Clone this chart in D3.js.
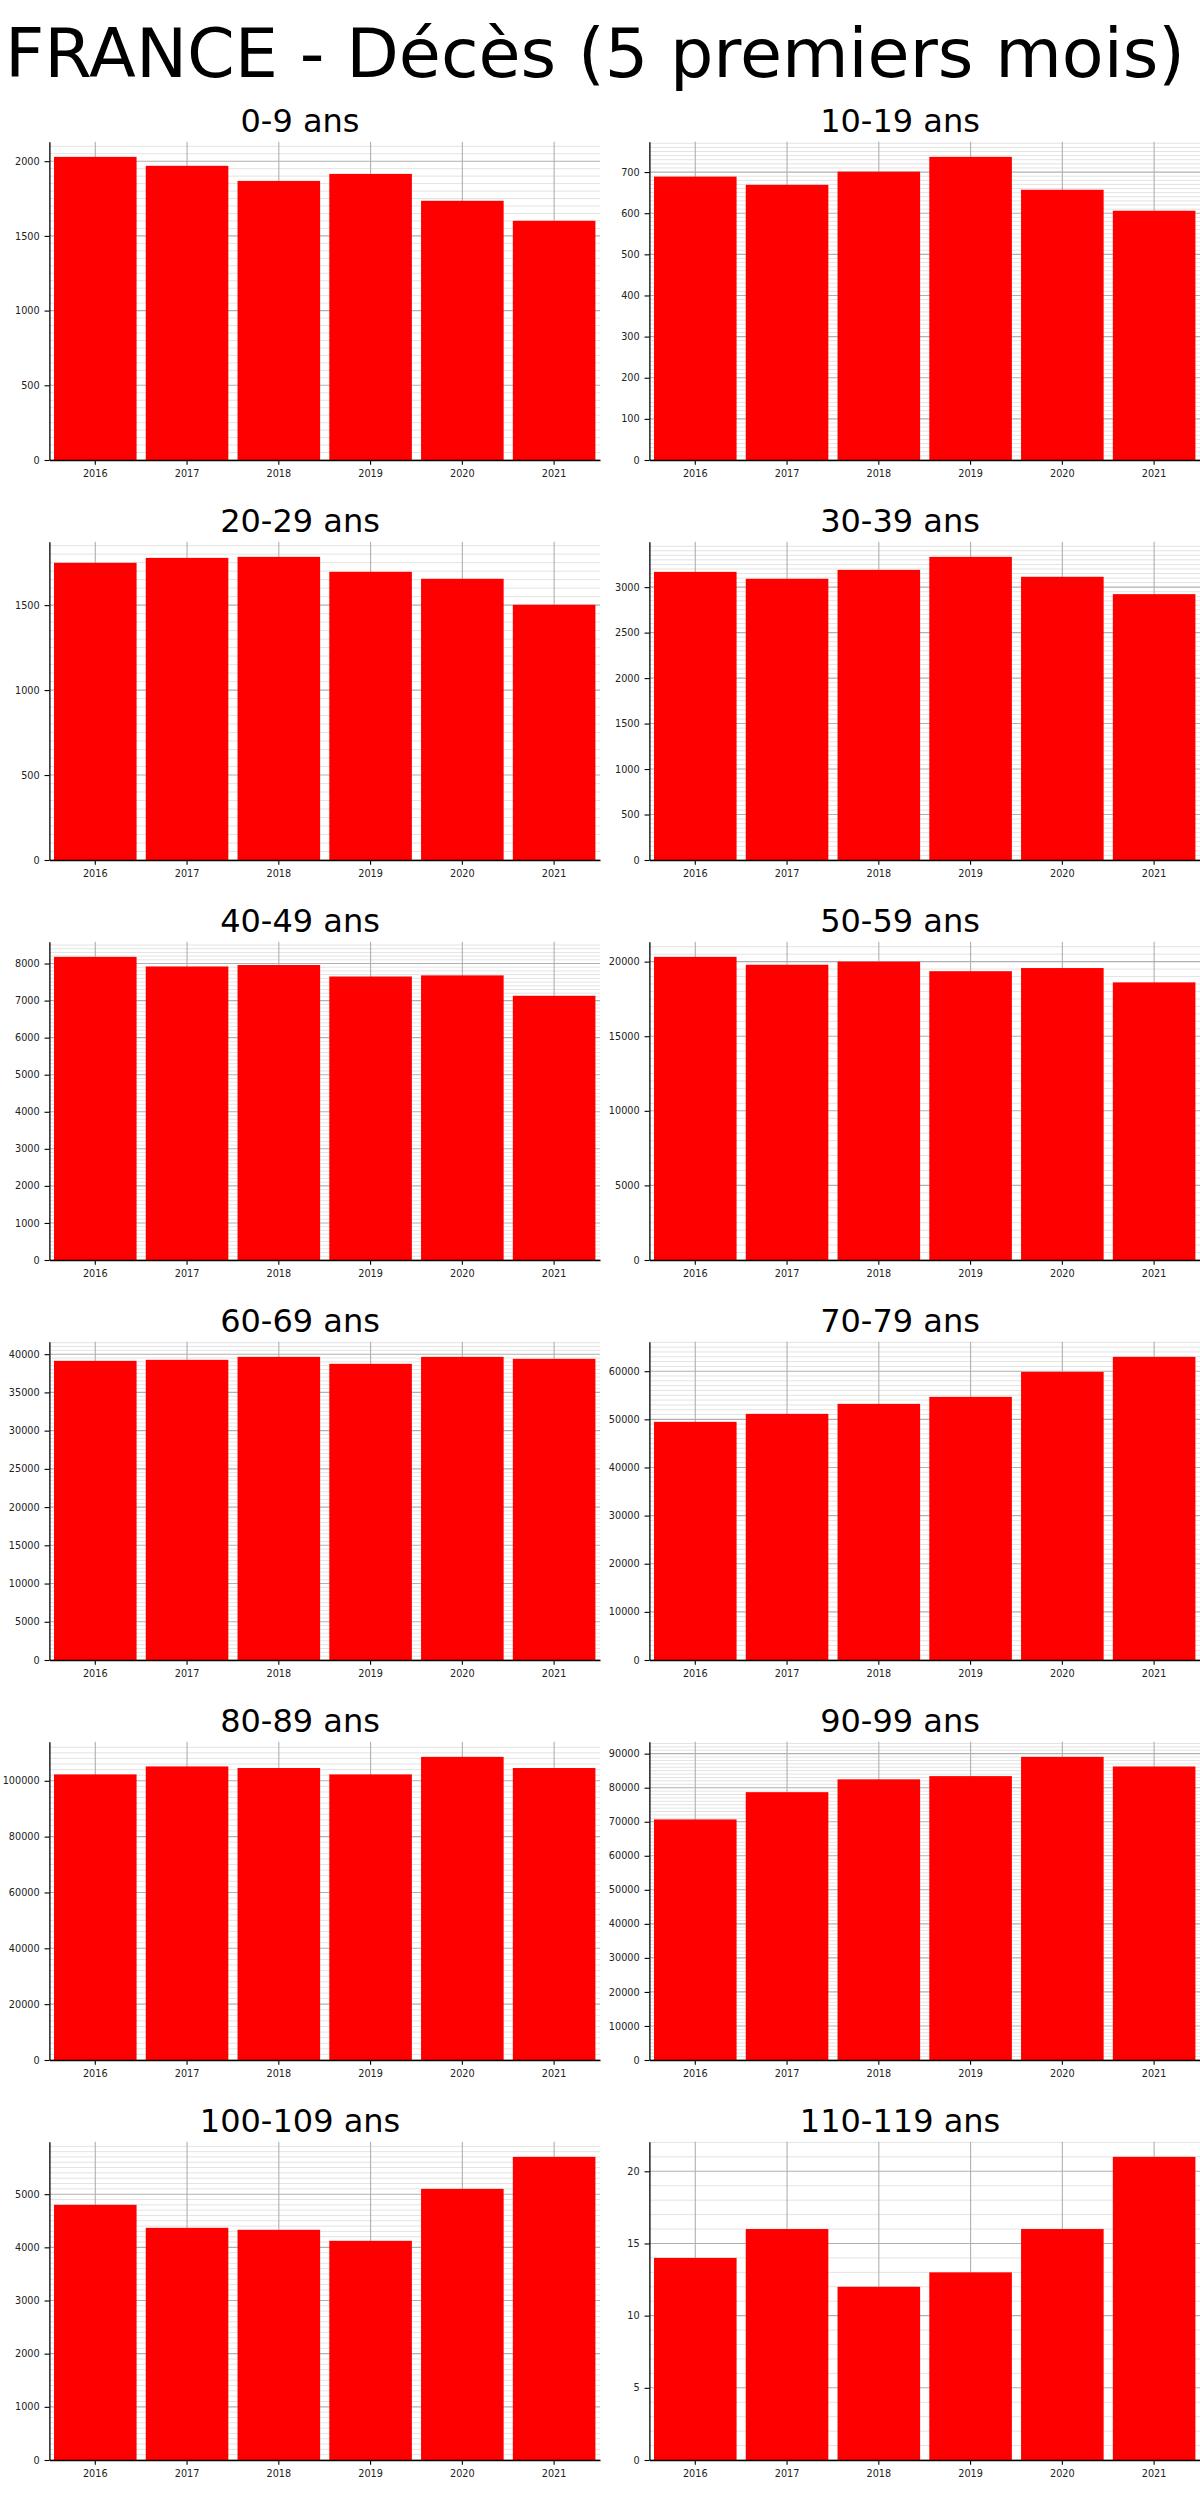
<!DOCTYPE html>
<html>
<head>
<meta charset="utf-8">
<script src="https://cdn.jsdelivr.net/npm/d3@7"></script>
<style>
  html, body { margin: 0; padding: 0; background: #ffffff; }
  svg { display: block; font-family: "DejaVu Sans", sans-serif; }
</style>
</head>
<body>
<svg id="chart" width="1200" height="2500"></svg>
<script>
// ---------------- DATA ----------------
const chartTitle = "FRANCE - Décès (5 premiers mois)";
const years = ["2016", "2017", "2018", "2019", "2020", "2021"];
const ageGroups = ["0-9 ans", "10-19 ans", "20-29 ans", "30-39 ans", "40-49 ans", "50-59 ans",
                   "60-69 ans", "70-79 ans", "80-89 ans", "90-99 ans", "100-109 ans", "110-119 ans"];

const deaths_0_9     = [2029, 1969, 1868, 1915, 1735, 1601];
const deaths_10_19   = [689, 669, 701, 737, 657, 606];
const deaths_20_29   = [1749, 1778, 1784, 1696, 1655, 1502];
const deaths_30_39   = [3168, 3092, 3190, 3333, 3114, 2923];
const deaths_40_49   = [8180, 7920, 7960, 7650, 7680, 7130];
const deaths_50_59   = [20320, 19790, 20000, 19360, 19570, 18610];
const deaths_60_69   = [39130, 39260, 39650, 38740, 39650, 39390];
const deaths_70_79   = [49480, 51140, 53220, 54670, 59860, 62980];
const deaths_80_89   = [102290, 105140, 104570, 102290, 108570, 104570];
const deaths_90_99   = [70680, 78690, 82460, 83400, 89060, 86230];
const deaths_100_109 = [4800, 4367, 4330, 4123, 5100, 5702];
const deaths_110_119 = [14, 16, 12, 13, 16, 21];

// y-axis major tick step and minor subdivisions per panel
const yMajorStep = [500, 100, 500, 500, 1000, 5000, 5000, 10000, 20000, 10000, 1000, 5];
const yMinorDivs = [10, 10, 10, 10, 10, 10, 10, 10, 10, 10, 10, 5];

const series = [deaths_0_9, deaths_10_19, deaths_20_29, deaths_30_39, deaths_40_49, deaths_50_59,
                deaths_60_69, deaths_70_79, deaths_80_89, deaths_90_99, deaths_100_109, deaths_110_119];

// ---------------- LAYOUT ----------------
const svg = d3.select("#chart");
const colW = 600, rowH = 400;
const plotLeft = 49.4, plotRight = 600, plotTop = 141.7, plotBottom = 460;
const tickLen = 4.86, tickPad = 4.86;
const tickFont = 9.7;

svg.append("rect").attr("width", 1200).attr("height", 2500).attr("fill", "#ffffff");

svg.append("text")
  .attr("x", 595).attr("y", 77)
  .attr("text-anchor", "middle")
  .attr("font-size", 68.4)
  .attr("fill", "#000")
  .text(chartTitle);

series.forEach((vals, i) => {
  const col = i % 2, row = Math.floor(i / 2);
  const g = svg.append("g").attr("transform", `translate(${col * colW},${row * rowH})`);

  const x = d3.scaleBand().domain(years).range([plotLeft, plotRight])
    .paddingInner(0.1).paddingOuter(0.05);
  const yMax = d3.max(vals) * 1.05;
  const y = d3.scaleLinear().domain([0, yMax]).range([plotBottom, plotTop]);

  const major = yMajorStep[i];
  const minor = major / yMinorDivs[i];
  const majorTicks = d3.range(0, yMax + 1e-9, major);
  const minorTicks = d3.range(0, yMax + 1e-9, minor).filter(v => Math.abs(v / major - Math.round(v / major)) > 1e-6);

  // minor horizontal grid
  g.append("g").selectAll("line").data(minorTicks).join("line")
    .attr("x1", plotLeft).attr("x2", plotRight)
    .attr("y1", d => y(d)).attr("y2", d => y(d))
    .attr("stroke", "#e3e3e3").attr("stroke-width", 1);
  // major horizontal grid
  g.append("g").selectAll("line").data(majorTicks).join("line")
    .attr("x1", plotLeft).attr("x2", plotRight)
    .attr("y1", d => y(d)).attr("y2", d => y(d))
    .attr("stroke", "#b0b0b0").attr("stroke-width", 1.1);
  // vertical grid
  g.append("g").selectAll("line").data(years).join("line")
    .attr("x1", d => x(d) + x.bandwidth() / 2).attr("x2", d => x(d) + x.bandwidth() / 2)
    .attr("y1", plotTop).attr("y2", plotBottom)
    .attr("stroke", "#b0b0b0").attr("stroke-width", 1.1);

  // bars
  g.append("g").selectAll("rect").data(vals).join("rect")
    .attr("x", (d, j) => x(years[j]))
    .attr("width", x.bandwidth())
    .attr("y", d => y(d))
    .attr("height", d => plotBottom - y(d))
    .attr("fill", "#ff0000");

  // axes
  const yAxis = d3.axisLeft(y).tickValues(majorTicks).tickSize(tickLen).tickPadding(tickPad)
    .tickSizeOuter(0).tickFormat(d3.format("d"));
  const ya = g.append("g").attr("transform", `translate(${plotLeft},0)`).call(yAxis);
  const xAxis = d3.axisBottom(x).tickSize(tickLen).tickPadding(tickPad).tickSizeOuter(0);
  const xa = g.append("g").attr("transform", `translate(0,${plotBottom})`).call(xAxis);
  [ya, xa].forEach(a => {
    a.select(".domain").attr("stroke", "#000").attr("stroke-width", 1.3);
    a.selectAll(".tick line").attr("stroke", "#000").attr("stroke-width", 1.1);
    a.selectAll(".tick text").attr("font-size", tickFont).attr("fill", "#222")
      .attr("font-family", "DejaVu Sans, sans-serif");
  });

  // panel title
  g.append("text")
    .attr("x", colW / 2).attr("y", 131.7)
    .attr("text-anchor", "middle")
    .attr("font-size", 32)
    .attr("fill", "#000")
    .text(ageGroups[i]);
});
</script>
</body>
</html>
